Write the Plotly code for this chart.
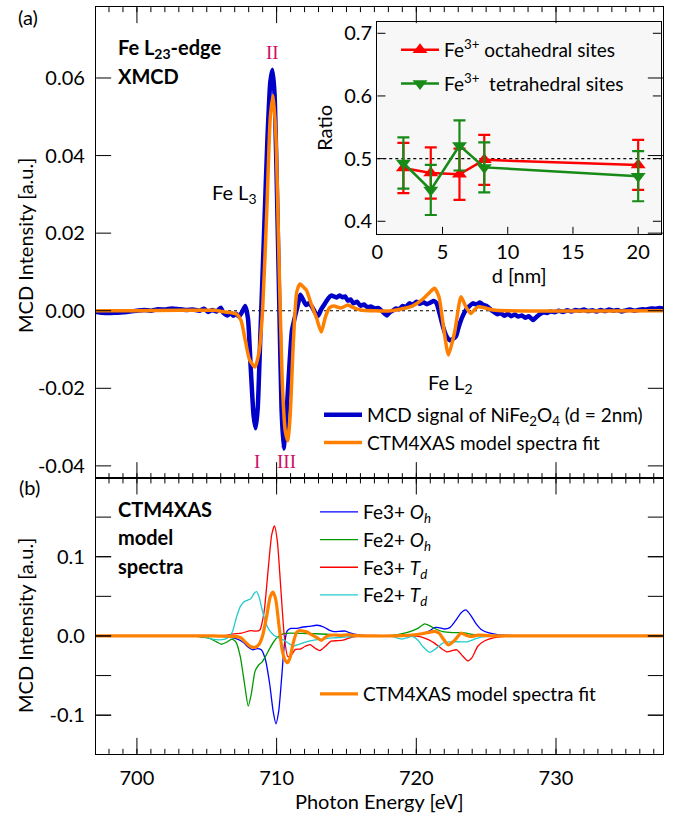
import plotly.graph_objects as go

# ---------------- data ----------------
# (a) experimental XMCD of NiFe2O4 (d = 2 nm): photon energy [eV], intensity [a.u.]
exp_energy = [697.07, 697.5, 698.0, 698.5, 699.0, 699.5, 700.0, 700.5, 701.0, 701.5, 702.0, 702.5,
              703.0, 703.5, 704.0, 704.5, 704.8, 705.1, 705.4, 705.7, 706.0, 706.2, 706.5, 706.7,
              706.9, 707.1, 707.3, 707.5, 707.75, 707.95, 708.15, 708.35, 708.5, 708.65, 708.85,
              709.1, 709.35, 709.55, 709.7, 709.85, 710.0, 710.2, 710.35, 710.5, 710.65, 710.85,
              711.1, 711.35, 711.55, 711.7, 711.9, 712.1, 712.3, 712.5, 712.75, 712.97, 713.2,
              713.45, 713.7, 713.9, 714.1, 714.3, 714.5, 714.7, 714.9, 715.1, 715.3, 715.5, 715.75,
              716.0, 716.25, 716.5, 716.75, 717.0, 717.3, 717.6, 717.9, 718.1, 718.3, 718.55, 718.8,
              719.0, 719.25, 719.5, 719.75, 720.0, 720.25, 720.5, 720.75, 721.0, 721.25, 721.45,
              721.65, 721.9, 722.15, 722.4, 722.6, 722.85, 723.05, 723.3, 723.55, 723.8, 724.05,
              724.3, 724.55, 724.8, 725.05, 725.3, 725.55, 725.8, 726.05, 726.3, 726.55, 726.8,
              727.05, 727.3, 727.55, 727.8, 728.05, 728.35, 728.6, 728.85, 729.1, 729.35, 729.6,
              729.9, 730.2, 730.5, 730.8, 731.1, 731.4, 731.7, 732.0, 732.3, 732.6, 732.9, 733.2,
              733.5, 733.8, 734.1, 734.4, 734.7, 735.0, 735.3, 735.6, 735.9, 736.2, 736.5, 736.8,
              737.1, 737.4, 737.66]
exp_mcd = [-0.0003, -0.0005, -0.0006, -0.0005, -0.0004, -0.0002, 0.0, 0.0002, 0.0, 0.0004, 0.0003, 0.0006,
           0.0004, 0.0002, 0.0003, 0.0, 0.0005, -0.0003, 0.0002, -0.0002, 0.0008, -0.0006, -0.0012, -0.0005,
           -0.0013, -0.0008, -0.0015, -0.0005, 0.0012, -0.002, -0.015, -0.027, -0.0303, -0.025, -0.005,
           0.02, 0.045, 0.059, 0.0621, 0.056, 0.035, 0.0, -0.025, -0.0355, -0.030, -0.018,
           -0.005, -0.001, 0.002, 0.0041, 0.0028, 0.0015, 0.0019, 0.0012, -0.0004, -0.0013, 0.0004,
           0.0018, 0.0032, 0.0039, 0.0037, 0.0034, 0.0039, 0.0035, 0.0037, 0.0026, 0.0029, 0.0019, 0.0023,
           0.0013, 0.0016, 0.0009, 0.0011, 0.0006, 0.0007, -0.0003, -0.0012, -0.0004, 0.0, 0.0006, 0.0004,
           0.0012, 0.001, 0.0019, 0.0015, 0.0023, 0.0018, 0.0022, 0.0017, 0.0021, 0.0025, 0.0019,
           -0.0005, -0.004, -0.0065, -0.0076, -0.0073, -0.0065, -0.004, -0.0015, 0.0002, 0.0012, 0.0019,
           0.0016, 0.0021, 0.0015, 0.0012, 0.0004, -0.0003, -0.0009, -0.0006, -0.0013, -0.0008, -0.0014,
           -0.0010, -0.0015, -0.0012, -0.0018, -0.0014, -0.0024, -0.0016, -0.0009, -0.0004, -0.0006, -0.0002,
           -0.0004, 0.0, -0.0003, 0.0001, -0.0002, 0.0002, 0.0, 0.0003, -0.0001, 0.0001, -0.0002, 0.0002,
           -0.0001, 0.0003, 0.0, 0.0002, -0.0002, 0.0001, 0.0003, 0.0, 0.0002, 0.0004, 0.0003, 0.0006,
           0.0005, 0.0007, 0.0006]

# CTM4XAS model spectra fit (shown in both panels)
fit_energy = [697.07, 700.0, 703.0, 705.5, 706.3, 706.8, 707.15, 707.45, 707.75, 708.05, 708.45, 708.75,
              709.0, 709.3, 709.55, 709.75, 709.95, 710.15, 710.4, 710.62, 710.8, 710.97, 711.2, 711.45,
              711.68, 711.95, 712.15, 712.45, 712.85, 713.2, 713.5, 713.8, 714.1, 714.6, 715.1, 715.5,
              716.0, 717.0, 718.2, 719.0, 719.7, 720.4, 720.9, 721.3, 721.62, 721.95, 722.3, 722.75,
              723.2, 723.55, 723.9, 724.4, 725.5, 726.5, 737.66]
fit_mcd = [0.0, 0.0, 0.0001, 0.0001, -0.0003, -0.0005, -0.0009, -0.0025, -0.0075, -0.0125, -0.0145, -0.0105,
           0.0005, 0.026, 0.050, 0.0555, 0.045, 0.016, -0.018, -0.031, -0.0335, -0.027, -0.008, 0.005,
           0.0069, 0.006, 0.0052, 0.002, -0.0018, -0.0055, -0.0015, 0.0008, 0.0012, 0.0007, 0.0015, 0.0008,
           0.0002, 0.0, 0.0, 0.0005, 0.0012, 0.0028, 0.0045, 0.0058, 0.0036, -0.0043, -0.0114, -0.0054,
           0.0036, 0.0010, -0.0007, 0.0010, 0.0002, 0.0, 0.0]

# (b) CTM4XAS model spectra components
fe3_oh_energy = [697.07, 705.5, 706.3, 706.8, 707.2, 707.6, 708.0, 708.3, 708.6, 708.9, 709.2, 709.5,
                 709.75, 709.95, 710.15, 710.35, 710.55, 710.75, 711.0, 711.4, 711.8, 712.3, 712.9,
                 713.4, 713.8, 714.1, 714.5, 714.9, 715.3, 715.9, 716.5, 717.5, 719.0, 719.8, 720.4,
                 720.9, 721.3, 721.6, 722.0, 722.4, 722.8, 723.2, 723.55, 723.9, 724.3, 724.7, 725.2,
                 725.8, 726.5, 727.5, 737.66]
fe3_oh_mcd = [0.0, 0.0, -0.0008, -0.002, -0.004, -0.008, -0.0145, -0.0175, -0.016, -0.0175, -0.030, -0.060,
              -0.095, -0.111, -0.095, -0.055, -0.012, 0.006, 0.0095, 0.0095, 0.011, 0.012, 0.0135,
              0.011, 0.007, 0.0055, 0.0058, 0.0062, 0.0035, 0.0013, 0.0004, 0.0001, 0.0003, 0.0012, 0.0025,
              0.006, 0.0105, 0.0105, 0.0088, 0.0105, 0.019, 0.029, 0.0328, 0.026, 0.015, 0.0075, 0.0038,
              0.0018, 0.0008, 0.0002, 0.0]

fe2_oh_energy = [697.07, 703.8, 704.5, 705.2, 705.7, 706.05, 706.4, 706.8, 707.1, 707.4, 707.7, 707.97,
                 708.2, 708.45, 708.7, 708.95, 709.2, 709.5, 709.8, 710.1, 710.5, 711.0, 711.8, 712.5,
                 713.2, 714.0, 715.0, 716.0, 717.5, 718.3, 719.0, 719.6, 720.1, 720.6, 721.0, 721.4,
                 721.9, 722.6, 723.3, 724.0, 724.8, 725.5, 737.66]
fe2_oh_mcd = [0.0, 0.0, -0.001, -0.003, -0.0075, -0.0105, -0.008, -0.004, -0.008, -0.026, -0.060, -0.0885,
              -0.072, -0.045, -0.037, -0.033, -0.026, -0.016, -0.007, -0.001, 0.0028, 0.0035, 0.0032, 0.003,
              0.0025, 0.0018, 0.001, 0.0003, 0.0002, 0.0008, 0.0028, 0.0058, 0.0095, 0.0152, 0.0125, 0.0088,
              0.0055, 0.0043, 0.0042, 0.002, 0.0006, 0.0001, 0.0]

fe3_td_energy = [697.07, 705.8, 706.4, 706.9, 707.5, 708.1, 708.5, 708.8, 709.1, 709.4, 709.65, 709.85,
                 710.05, 710.3, 710.55, 710.8, 711.05, 711.35, 711.7, 712.05, 712.4, 712.8, 713.1, 713.5,
                 713.9, 714.4, 714.9, 715.4, 716.0, 720.0, 720.5, 720.9, 721.3, 721.8, 722.2, 722.55,
                 722.9, 723.35, 723.7, 724.0, 724.4, 724.9, 725.6, 726.4, 727.5, 737.66]
fe3_td_mcd = [0.0, 0.0, 0.0008, 0.0025, 0.0035, 0.0068, 0.006, 0.0075, 0.030, 0.085, 0.128, 0.139,
              0.120, 0.060, 0.0, -0.026, -0.024, -0.017, -0.0165, -0.013, -0.011, -0.016, -0.0185, -0.013,
              -0.0065, -0.006, -0.0045, -0.0015, -0.0003, -0.0003, -0.002, -0.005, -0.009, -0.016, -0.020, -0.0185,
              -0.0175, -0.026, -0.0315, -0.027, -0.013, -0.006, -0.002, -0.0004, 0.0, 0.0]

fe2_td_energy = [697.07, 704.3, 704.9, 705.4, 705.9, 706.3, 706.6, 706.85, 707.1, 707.4, 707.65, 707.9,
                 708.15, 708.4, 708.57, 708.75, 708.95, 709.2, 709.45, 709.8, 710.2, 710.6, 711.0, 711.25,
                 711.6, 712.0, 712.6, 713.3, 714.0, 714.8, 715.8, 717.5, 718.3, 718.7, 719.0, 719.4,
                 719.7, 720.1, 720.5, 720.95, 721.4, 721.9, 722.4, 723.0, 723.6, 724.1, 724.5, 725.2,
                 726.0, 737.66]
fe2_td_mcd = [0.0, 0.0, -0.0015, -0.004, -0.005, -0.004, -0.001, 0.006, 0.022, 0.037, 0.043, 0.045,
              0.047, 0.054, 0.056, 0.049, 0.034, 0.018, 0.008, 0.001, -0.003, -0.006, -0.011, -0.0125,
              -0.0105, -0.008, -0.0055, -0.004, -0.0025, -0.0015, -0.0004, 0.0, -0.0008, -0.003, -0.004, -0.002,
              -0.0005, -0.005, -0.014, -0.0206, -0.016, -0.009, -0.0075, -0.0073, -0.0075, -0.0045, -0.002, -0.0005,
              0.0, 0.0]

# inset: Fe3+ site ratio vs film thickness
d_nm = [2.0, 4.1, 6.3, 8.2, 20.0]
oct_ratio = [0.485, 0.477, 0.475, 0.498, 0.490]
oct_err = [0.040, 0.041, 0.041, 0.040, 0.040]
tet_ratio = [0.493, 0.450, 0.521, 0.486, 0.472]
tet_err = [0.041, 0.040, 0.040, 0.040, 0.040]

# tick values / labels
x_label_vals = [700, 710, 720, 730]
x_mid_vals = [705, 715, 725, 735]
ya_tickvals = [-0.04, -0.02, 0.0, 0.02, 0.04, 0.06]
ya_ticktext = ["-0.04", "-0.02", "0.00", "0.02", "0.04", "0.06"]
yb_tickvals = [-0.1, 0.0, 0.1]
yb_ticktext = ["-0.1", "0.0", "0.1"]
ins_x_tickvals = [0, 5, 10, 15, 20]
ins_y_tickvals = [0.4, 0.5, 0.6, 0.7]

# ---------------- geometry helpers (pixel -> paper) ----------------
FONT = "Lato"
W, H = 676, 817
ML, MR, MT, MB = 96, 13, 7, 63
PW, PH = W - ML - MR, H - MT - MB


def fx(p):
    return (p - ML) / PW


def fy(p):
    return (H - MB - p) / PH


split = fy(478.3)
XR = [697.07, 737.66]

fig = go.Figure()

# (a) experiment + fit
fig.add_trace(go.Scatter(x=exp_energy, y=exp_mcd, mode="lines", xaxis="x", yaxis="y",
                         name="MCD signal of NiFe<sub>2</sub>O<sub>4</sub> (d = 2nm)",
                         line=dict(color="#0000c8", width=4.5, shape="spline", smoothing=0.5),
                         legend="legend"))
fig.add_trace(go.Scatter(x=fit_energy, y=fit_mcd, mode="lines", xaxis="x", yaxis="y",
                         name="CTM4XAS model spectra fit",
                         line=dict(color="#ff8000", width=3.5, shape="spline", smoothing=0.6),
                         legend="legend"))

# (b) components
comp = [
    (fe3_oh_energy, fe3_oh_mcd, "Fe3+ <i>O<sub>h</sub></i>", "#0000ff"),
    (fe2_oh_energy, fe2_oh_mcd, "Fe2+ <i>O<sub>h</sub></i>", "#009a00"),
    (fe3_td_energy, fe3_td_mcd, "Fe3+ <i>T<sub>d</sub></i>", "#ff0000"),
    (fe2_td_energy, fe2_td_mcd, "Fe2+ <i>T<sub>d</sub></i>", "#22cccc"),
]
for ex, ey, nm, col in comp:
    fig.add_trace(go.Scatter(x=ex, y=ey, mode="lines", xaxis="x2", yaxis="y2", name=nm,
                             line=dict(color=col, width=1.3, shape="spline", smoothing=0.6),
                             legend="legend3"))
fig.add_trace(go.Scatter(x=fit_energy, y=fit_mcd, mode="lines", xaxis="x2", yaxis="y2",
                         name="CTM4XAS model spectra fit",
                         line=dict(color="#ff8000", width=3.2, shape="spline", smoothing=0.6),
                         legend="legend4"))

# inset
fig.add_trace(go.Scatter(x=d_nm, y=oct_ratio, mode="lines+markers", xaxis="x3", yaxis="y3",
                         name="Fe<sup>3+</sup> octahedral sites", legendgroup="oct",
                         line=dict(color="#ff0000", width=2.5),
                         marker=dict(symbol="triangle-up", size=13, color="#ff0000"),
                         error_y=dict(type="data", array=oct_err, color="#ff0000", thickness=2.2, width=6),
                         legend="legend2"))
fig.add_trace(go.Scatter(x=d_nm, y=tet_ratio, mode="lines+markers", xaxis="x3", yaxis="y3",
                         name="Fe<sup>3+</sup>  tetrahedral sites", legendgroup="tet",
                         line=dict(color="#178a17", width=2.5),
                         marker=dict(symbol="triangle-down", size=13, color="#178a17"),
                         error_y=dict(type="data", array=tet_err, color="#178a17", thickness=2.2, width=6),
                         legend="legend2"))

tickfont = dict(family=FONT, size=20, color="black")
# main energy axes: long ticks at 10 eV (labelled), short minor ticks every 1 eV
common_x = dict(range=XR, showline=True, linecolor="black", linewidth=1.3, mirror="ticks",
                tickmode="array", tickvals=x_label_vals, ticks="inside", ticklen=16, tickwidth=1.2,
                tickcolor="black", showgrid=False, zeroline=False,
                minor=dict(dtick=1, ticks="inside", ticklen=5, tickwidth=1, tickcolor="black", showgrid=False))
# companion axes carrying only the medium-length 5 eV ticks
mid_x = dict(range=XR, showline=False, tickmode="array", tickvals=x_mid_vals, ticks="inside", ticklen=9,
             tickwidth=1.2, tickcolor="black", showticklabels=False, showgrid=False, zeroline=False,
             mirror="ticks")
common_y = dict(showline=True, linecolor="black", linewidth=1.3, mirror="ticks", tickmode="array",
                ticks="inside", ticklen=15, tickwidth=1.2, tickcolor="black",
                showgrid=False, zeroline=False, tickfont=tickfont, ticklabelstandoff=6)

fig.update_layout(
    width=W, height=H,
    margin=dict(l=ML, r=MR, t=MT, b=MB),
    paper_bgcolor="white", plot_bgcolor="rgba(0,0,0,0)",
    font=dict(family=FONT, size=19, color="black"),
    xaxis=dict(domain=[0, 1], anchor="y", showticklabels=False, **common_x),
    yaxis=dict(domain=[split, 1], anchor="x", range=[-0.0432, 0.0783],
               tickvals=ya_tickvals, ticktext=ya_ticktext, **common_y),
    xaxis2=dict(domain=[0, 1], anchor="y2", showticklabels=True, tickfont=tickfont,
                ticklabelstandoff=6, **common_x),
    yaxis2=dict(domain=[0, split], anchor="x2", range=[-0.149, 0.199],
                tickvals=yb_tickvals, ticktext=yb_ticktext,
                minor=dict(dtick=0.05, tick0=0, ticks="inside", ticklen=15, tickwidth=1.2,
                           tickcolor="black", showgrid=False),
                **common_y),
    xaxis4=dict(overlaying="x", anchor="y", **mid_x),
    xaxis5=dict(overlaying="x2", anchor="y2", **mid_x),
    xaxis3=dict(domain=[fx(377.3), fx(661)], anchor="y3", range=[0, 21.75],
                tickmode="array", tickvals=ins_x_tickvals, showline=True, linecolor="black", linewidth=1.3,
                mirror=True, ticks="inside", ticklen=7, tickwidth=1.2, tickcolor="black",
                showgrid=False, zeroline=False, tickfont=tickfont,
                title=dict(text="d [nm]", font=dict(family=FONT, size=20), standoff=2)),
    yaxis3=dict(domain=[fy(234), fy(21.7)], anchor="x3", range=[0.3797, 0.7185],
                tickmode="array", tickvals=ins_y_tickvals, tickformat=".1f", showline=True,
                linecolor="black", linewidth=1.3, mirror="ticks", ticks="inside", ticklen=8,
                tickwidth=1.2, tickcolor="black", showgrid=False, zeroline=False, tickfont=tickfont,
                title=dict(text="Ratio", font=dict(family=FONT, size=20), standoff=6)),
    legend=dict(x=fx(319), y=fy(396), xanchor="left", yanchor="top", bgcolor="rgba(0,0,0,0)",
                font=dict(family=FONT, size=19), tracegroupgap=0, itemwidth=38),
    legend2=dict(x=fx(396), y=fy(31), xanchor="left", yanchor="top", bgcolor="rgba(0,0,0,0)",
                 font=dict(family=FONT, size=19), tracegroupgap=6, itemwidth=38),
    legend3=dict(x=fx(315), y=fy(493), xanchor="left", yanchor="top", bgcolor="rgba(0,0,0,0)",
                 font=dict(family=FONT, size=19), tracegroupgap=0, itemwidth=38),
    legend4=dict(x=fx(315), y=fy(675), xanchor="left", yanchor="top", bgcolor="rgba(0,0,0,0)",
                 font=dict(family=FONT, size=19), tracegroupgap=0, itemwidth=38),
    showlegend=True,
)

# inset background + dotted reference lines
fig.add_shape(type="rect", xref="paper", yref="paper", x0=fx(377.3), x1=fx(661), y0=fy(234), y1=fy(21.7),
              fillcolor="#f7f7f7", line=dict(width=0), layer="below")
fig.add_shape(type="line", xref="x domain", yref="y", x0=0, x1=1, y0=0, y1=0,
              line=dict(color="black", width=1.2, dash="dot"), layer="below")
fig.add_shape(type="line", xref="x3 domain", yref="y3", x0=0, x1=1, y0=0.5, y1=0.5,
              line=dict(color="black", width=1.2, dash="dot"), layer="below")


def ann(text, x, y, xanchor="center", size=20, color="black", family=FONT, angle=0):
    fig.add_annotation(text=text, xref="paper", yref="paper", x=fx(x), y=fy(y), xanchor=xanchor,
                       yanchor="middle", showarrow=False, textangle=angle,
                       font=dict(family=family, size=size, color=color))


ann("(a)", 28, 17)
ann("(b)", 29, 487)
ann("<b>Fe L<sub>23</sub>-edge</b>", 116, 48, xanchor="left")
ann("<b>XMCD</b>", 116, 76, xanchor="left")
ann("<b>CTM4XAS</b>", 116, 509, xanchor="left")
ann("<b>model</b>", 116, 537, xanchor="left")
ann("<b>spectra</b>", 116, 566, xanchor="left")
ann("Fe L<sub>3</sub>", 234, 193)
ann("Fe L<sub>2</sub>", 450, 383)
roman = "#cc1166"
ann("II", 272.5, 53, size=19, color=roman, family="Liberation Serif")
ann("I", 257, 461, size=19, color=roman, family="Liberation Serif")
ann("III", 286, 461, size=19, color=roman, family="Liberation Serif")
ann("MCD Intensity [a.u.]", 25, 246, angle=-90)
ann("MCD Intensity [a.u.]", 25, 626, angle=-90)
ann("Photon Energy [eV]", 379.5, 801)

page_js = """
var st = document.createElement('style');
st.textContent = 'path.ticks { shape-rendering: geometricPrecision !important; }';
document.head.appendChild(st);
document.body.style.margin = '0px';
"""
fig.write_html("out.html", config={"displayModeBar": False}, post_script=page_js)
